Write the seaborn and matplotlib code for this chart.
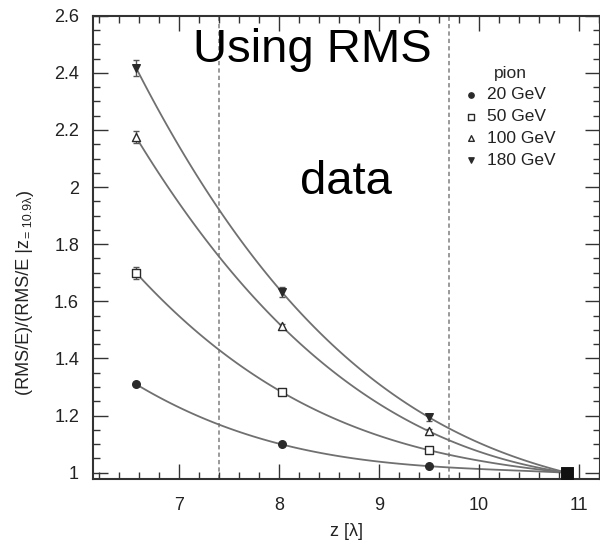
import numpy as np
import pandas as pd
import matplotlib
matplotlib.use("Agg")
import matplotlib.pyplot as plt
import seaborn as sns
from matplotlib.ticker import MultipleLocator, FuncFormatter

# ---- data ----
z_vals = [6.57, 8.03, 9.50, 10.88]
energies = ["20 GeV", "50 GeV", "100 GeV", "180 GeV"]
ratio_20 = [1.310, 1.099, 1.023, 1.0]
ratio_50 = [1.700, 1.282, 1.079, 1.0]
ratio_100 = [2.175, 1.512, 1.145, 1.0]
ratio_180 = [2.418, 1.632, 1.194, 1.0]
err_20 = [0.006, 0.005, 0.004, 0.0]
err_50 = [0.021, 0.010, 0.008, 0.0]
err_100 = [0.022, 0.010, 0.008, 0.0]
err_180 = [0.028, 0.017, 0.012, 0.0]
cut_lines = [7.4, 9.7]
x_ticks = [7, 8, 9, 10, 11]
y_ticks = [1, 1.2, 1.4, 1.6, 1.8, 2, 2.2, 2.4, 2.6]

ratios = [ratio_20, ratio_50, ratio_100, ratio_180]
errs = [err_20, err_50, err_100, err_180]

rows = []
for e, r, er in zip(energies, ratios, errs):
    for zz, v, ee in zip(z_vals, r, er):
        rows.append(dict(energy=e, z=zz, ratio=v, err=ee))
df = pd.DataFrame(rows)

sns.set_theme(style="ticks")
plt.rcParams["font.family"] = ["Liberation Sans", "DejaVu Sans"]

fig = plt.figure(figsize=(6.0, 5.47), dpi=100)
W, H = 600, 547
ax = fig.add_axes([93 / W, (H - 479.3) / H, (599.5 - 93) / W, (479.3 - 15.7) / H])
ax.set_axisbelow(False)

line_col = "#707070"
mk_col = "#2a2a2a"

styles = {
    "20 GeV": dict(marker="o", fc=mk_col, s=30),
    "50 GeV": dict(marker="s", fc="white", s=30),
    "100 GeV": dict(marker="^", fc="white", s=34),
    "180 GeV": dict(marker="v", fc=mk_col, s=30),
}

for vx in cut_lines:
    ax.axvline(vx, color="#9a9a9a", lw=1.4, ls=(0, (2.2, 1.6)), zorder=1)

for e in energies:
    sub = df[df.energy == e]
    sns.regplot(data=sub, x="z", y="ratio", order=3, ci=None, scatter=False,
                ax=ax, line_kws=dict(color=line_col, lw=1.3, zorder=2))
    pts = sub[sub.z < 10.5]
    ax.errorbar(pts.z, pts.ratio, yerr=pts.err, fmt="none", ecolor="#555555",
                elinewidth=1.0, capsize=2.5, capthick=1.0, zorder=3)
    st = styles[e]
    sns.scatterplot(data=pts, x="z", y="ratio", marker=st["marker"], s=st["s"],
                    color=st["fc"], edgecolor=mk_col, linewidth=1.0, ax=ax,
                    zorder=4, label=e)

end = df[(df.z > 10.5) & (df.energy == "20 GeV")]
sns.scatterplot(data=end, x="z", y="ratio", marker="s", s=70, color="#111111",
                edgecolor="#111111", ax=ax, zorder=5, legend=False)

ax.set_xlim(6.14, 11.205)
ax.set_ylim(0.977, 2.6)
ax.set_xticks(x_ticks)
ax.set_yticks(y_ticks)
ax.xaxis.set_minor_locator(MultipleLocator(0.2))
ax.yaxis.set_minor_locator(MultipleLocator(0.05))
ax.yaxis.set_major_formatter(FuncFormatter(lambda v, p: f"{v:g}"))
ax.tick_params(which="both", direction="in", top=True, right=True,
               bottom=True, left=True, color="#333333", width=1.0)
ax.tick_params(which="major", length=11, labelsize=13, labelcolor="#222222")
ax.tick_params(which="minor", length=5)
ax.tick_params(axis="x", which="major", pad=13)
ax.tick_params(axis="y", which="major", pad=10)
for sp in ax.spines.values():
    sp.set_color("#333333")
    sp.set_linewidth(1.5)

ax.set_xlabel("z [λ]", fontsize=13, color="#222222", labelpad=6)
ax.set_ylabel("")

leg = ax.legend(title="pion", loc="upper left", bbox_to_anchor=(0.705, 0.926),
                frameon=False, fontsize=12.5, title_fontsize=12.5,
                handlelength=0.6, handletextpad=0.6, labelspacing=0.38,
                markerscale=0.7, labelcolor="#222222")

fig.canvas.draw()
rend = fig.canvas.get_renderer()

# texts placed in figure coordinates but owned by the axes
lab_col = "#222222"
tf = fig.transFigure
t1 = ax.text(25 / W, (H - 395) / H, "(RMS/E)/(RMS/E |z", rotation=90,
             ha="center", va="bottom", fontsize=13, color=lab_col,
             transform=tf, clip_on=False)
bb1 = t1.get_window_extent(renderer=rend)
t2 = ax.text(29 / W, (bb1.y1 + 1) / H, "= 10.9λ", rotation=90,
             ha="center", va="bottom", fontsize=9, color=lab_col,
             transform=tf, clip_on=False)
bb2 = t2.get_window_extent(renderer=rend)
ax.text(25 / W, (bb2.y1 + 1) / H, ")", rotation=90,
        ha="center", va="bottom", fontsize=13, color=lab_col,
        transform=tf, clip_on=False)

ax.text(193 / W, 1 - 62 / H, "Using RMS", ha="left", va="baseline",
        fontsize=34, color="black", transform=tf, clip_on=False)
ax.text(300 / W, 1 - 194 / H, "data", ha="left", va="baseline",
        fontsize=34, color="black", transform=tf, clip_on=False)

ax.xaxis.set_zorder(6)
ax.yaxis.set_zorder(6)

fig.savefig("out.png", dpi=100)
